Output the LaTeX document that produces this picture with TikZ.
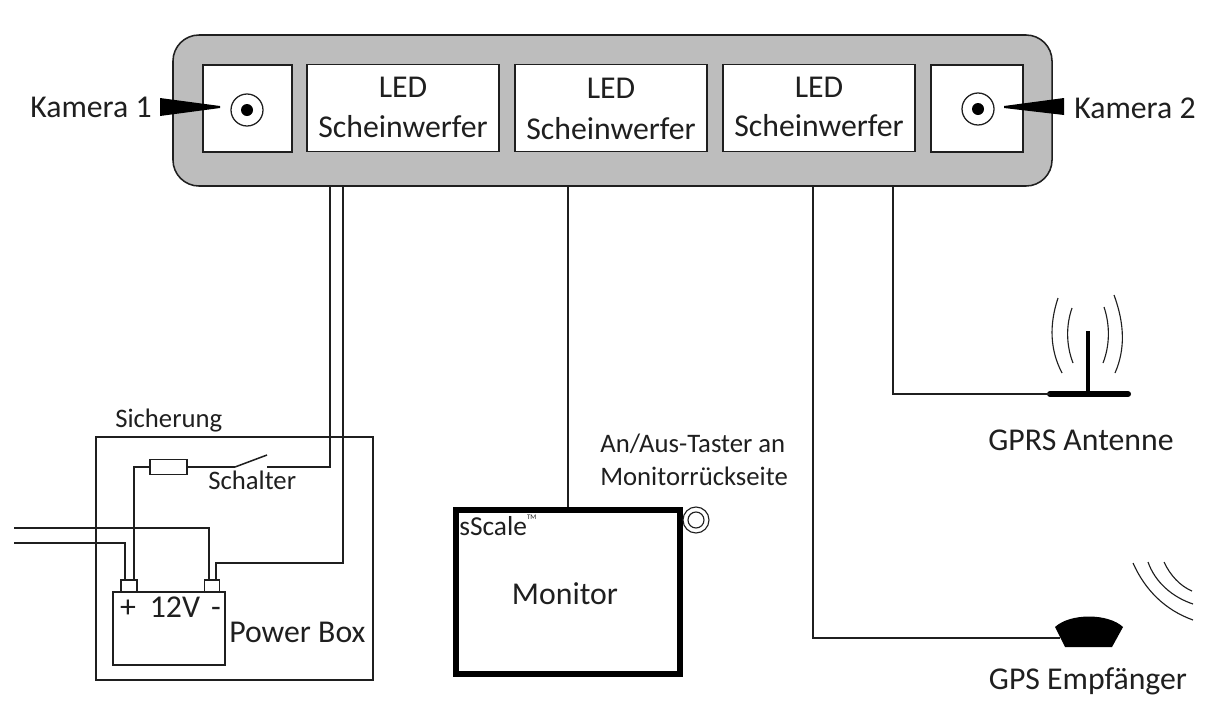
\documentclass[tikz,border=0pt]{standalone}
\usepackage{fontspec}
\setmainfont{Carlito}
\usetikzlibrary{positioning}

\definecolor{barfill}{gray}{0.74}
\definecolor{ink}{gray}{0.12}

\tikzset{
    wire/.style={draw=ink, line width=1.1pt},
    module/.style={draw=ink, fill=white, line width=1.1pt, minimum height=21.75mm, inner sep=0pt},
    ledbox/.style={module, minimum width=48mm, align=center},
    lens/.style={circle, draw=ink, fill=white, line width=0.9pt, minimum size=8mm, inner sep=0pt},
    pupil/.style={circle, fill=black, minimum size=3mm, inner sep=0pt},
    label/.style={inner sep=0pt, text=ink, font=\fontsize{22.6}{25}\selectfont},
    small/.style={inner sep=0pt, text=ink, font=\fontsize{19}{21}\selectfont, align=left},
    wave/.style={draw=ink, line width=0.8pt},
}

\begin{document}
\begin{tikzpicture}[x=0.25mm, y=-0.25mm]
    \useasboundingbox (0,0) rectangle (1208,704);

    % light bar with its five compartments
    \node[draw=ink, fill=barfill, line width=1.1pt, rounded corners=6.5mm,
          minimum width=219.75mm, minimum height=37.75mm, inner sep=0pt] (bar) at (612.5,110.5) {};
    \node[module, minimum width=22.25mm] (cam1) at (247.5,108.5) {};
    \node[ledbox] (led1) at (403,108) {};
    \node[ledbox] (led2) at (611,108) {};
    \node[ledbox] (led3) at (819,108) {};
    \node[module, minimum width=23mm] (cam2) at (977,108.5) {};
    \node[label] (led1a) at (403,87) {LED};
    \node[label] (led1b) at (403,127) {Scheinwerfer};
    \node[label] (led2a) at (611,88) {LED};
    \node[label] (led2b) at (611,129) {Scheinwerfer};
    \node[label] (led3a) at (819,87) {LED};
    \node[label] (led3b) at (819,126) {Scheinwerfer};

    % cameras
    \node[lens] (lens1) at (247,110) {};
    \node[pupil] (pupil1) at (247,110) {};
    \node[lens] (lens2) at (978,109) {};
    \node[pupil] (pupil2) at (978,109) {};
    \node[label, anchor=west] (kam1) at (30,107) {Kamera 1};
    \node[label, anchor=west] (kam2) at (1074,108) {Kamera 2};
    \fill[black] (160,98) -- (220,106) -- (220,108) -- (160,116) -- cycle;
    \fill[black] (1064,98) -- (1004,106) -- (1004,108) -- (1064,115) -- cycle;

    % power box
    \node[draw=ink, line width=1.1pt, minimum width=69.25mm, minimum height=60.75mm, inner sep=0pt] (pbox) at (234.5,558.5) {};
    \node[draw=ink, line width=1.1pt, minimum width=28mm, minimum height=18.25mm, inner sep=0pt] (batt) at (169,628.5) {};
    \node[draw=ink, line width=1.1pt, minimum width=4mm, minimum height=3mm, inner sep=0pt] (termp) at (129,586) {};
    \node[draw=ink, line width=1.1pt, minimum width=3.75mm, minimum height=3mm, inner sep=0pt] (termm) at (212,586) {};
    \node[draw=ink, line width=1.1pt, minimum width=9.25mm, minimum height=3.75mm, inner sep=0pt] (fuse) at (168.5,467) {};
    \node[small, anchor=west] (sich) at (115,421) {Sicherung};
    \node[small, anchor=west] (schalt) at (208,480) {Schalter};
    \node[label, anchor=base] (plus) at (128,617) {+};
    \node[label, anchor=base] (volt) at (175,617) {12V};
    \node[label, anchor=base] (minus) at (216,617) {-};
    \node[label, anchor=west] (pbl) at (229,632) {Power Box};

    % monitor
    \node[draw=black, line width=1.5mm, minimum width=56mm, minimum height=41mm, inner sep=0pt] (mon) at (568,592) {};
    \node[label] (monl) at (565,594) {Monitor};
    \node[inner sep=0pt, anchor=west, text=ink, font=\fontsize{19.5}{21}\selectfont] (sscale) at (459,525) {sScale\raisebox{1.2ex}{\fontsize{5}{5}\selectfont TM}};
    \node[circle, draw=ink, line width=0.8pt, minimum size=6.5mm, inner sep=0pt] (btn) at (696,520) {};
    \node[circle, draw=ink, line width=0.8pt, minimum size=4mm, inner sep=0pt] (btni) at (696,520) {};
    \node[small, anchor=west] (taster) at (600,460) {An/Aus-Taster an\\[2.5pt]Monitorrückseite};

    % antennas
    \node[label] (gprsl) at (1081,440) {GPRS Antenne};
    \node[label] (gpsl) at (1088,681) {GPS Empfänger};
    \coordinate (bar1) at (1050,394);
    \coordinate (bar2) at (1128,394);
    \coordinate (mast) at (1088,394);
    \coordinate (masttop) at (1088,331);
    \draw[black, line width=1.5mm, line cap=round] (bar1) -- (bar2);
    \draw[black, line width=1mm] (mast) -- (masttop);
    \draw[wave] (1058,298) .. controls (1049,325) and (1050,350) .. (1062,373);
    \draw[wave] (1072,308) .. controls (1066,325) and (1066,345) .. (1073,363);
    \draw[wave] (1104,307) .. controls (1110,325) and (1110,345) .. (1103,363);
    \draw[wave] (1114,295) .. controls (1125,325) and (1125,350) .. (1115,373);
    \fill[black] (1055,627) .. controls (1070,613) and (1108,613) .. (1123,627)
        -- (1112,647) -- (1065,647) -- cycle;
    \coordinate (gps) at (1060,638);
    \draw[wave] (1133,563) .. controls (1145,590) and (1165,610) .. (1193,620);
    \draw[wave] (1148,562) .. controls (1155,582) and (1172,597) .. (1193,604);
    \draw[wave] (1164,562) .. controls (1170,575) and (1180,586) .. (1192,591);

    % switch
    \coordinate (swa) at (235,467);
    \coordinate (swb) at (267,455);
    \coordinate (swc) at (267,467);
    \draw[wire] (swa) -- (swb);

    % wiring
    \coordinate (w1) at (330,186);
    \coordinate (w1b) at (330,467);
    \coordinate (w2) at (343,186);
    \coordinate (w2b) at (343,563);
    \coordinate (w2c) at (216,563);
    \coordinate (w2d) at (216,580);
    \coordinate (w3) at (134,467);
    \coordinate (w3b) at (134,580);
    \coordinate (in1) at (14,528);
    \coordinate (in1b) at (209,528);
    \coordinate (in1c) at (209,580);
    \coordinate (in2) at (14,543);
    \coordinate (in2b) at (125,543);
    \coordinate (in2c) at (125,580);
    \coordinate (w4) at (813,186);
    \coordinate (w4b) at (813,638);
    \coordinate (w5) at (893,186);
    \coordinate (w5b) at (893,394);
    \draw[wire] (w1) -- (w1b) -- (swc);
    \draw[wire] (w2) -- (w2b) -- (w2c) -- (w2d);
    \draw[wire] (swa) -- (fuse.east);
    \draw[wire] (fuse.west) -- (w3) -- (w3b);
    \draw[wire] (in1) -- (in1b) -- (in1c);
    \draw[wire] (in2) -- (in2b) -- (in2c);
    \draw[wire] (bar.south -| mon.north) -- (mon.north);
    \draw[wire] (w4) -- (w4b) -- (gps);
    \draw[wire] (w5) -- (w5b) -- (bar1);
\end{tikzpicture}
\end{document}
